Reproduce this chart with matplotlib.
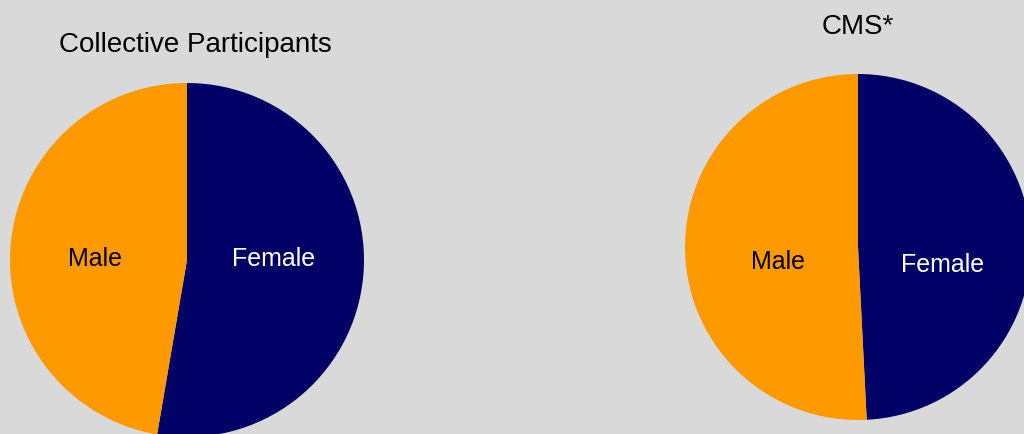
import matplotlib
matplotlib.use("Agg")
import matplotlib.pyplot as plt

# share of participants by gender, %
groups = ["Female", "Male"]
collective = [52.7, 47.3]
cms = [49.2, 50.8]

titles = ["Collective Participants", "CMS*"]

BG = "#d9d9d9"
COLORS = ["#000066", "#ff9900"]
TEXT_COLORS = ["white", "black"]
FONT = "Liberation Sans"

W, H = 1024, 435
fig = plt.figure(figsize=(W / 100, H / 100), dpi=100, facecolor=BG)


def pie_axes(cx, cy, r):
    # square axes centred on (cx, cy) in pixels, measured from the top-left corner
    return fig.add_axes([(cx - r) / W, 1 - (cy + r) / H, 2 * r / W, 2 * r / H])


def draw_pie(ax, values, title, label_pos, title_x, title_y):
    wedges, _ = ax.pie(values, colors=COLORS, startangle=90, counterclock=False,
                       radius=1.0, wedgeprops=dict(linewidth=0))
    for w in wedges:
        w.set_clip_on(False)
    for name, (lx, ly), tc in zip(groups, label_pos, TEXT_COLORS):
        ax.text(lx, ly, name, color=tc, fontsize=18, family=FONT,
                ha="center", va="center")
    ax.text(title_x, title_y, title, fontsize=20, family=FONT, ha="center",
            va="center", color="black")
    ax.set_xlim(-1, 1)
    ax.set_ylim(-1, 1)
    ax.set_aspect("equal")
    ax.axis("off")


ax1 = pie_axes(187, 261, 177)
draw_pie(ax1, collective, titles[0],
         [(0.49, 0.01), (-0.52, 0.01)], 0.05, 1.22)

ax2 = pie_axes(858, 248, 173)
draw_pie(ax2, cms, titles[1],
         [(0.49, -0.10), (-0.46, -0.08)], 0.0, 1.28)

fig.savefig("out.png", dpi=100, facecolor=BG)
